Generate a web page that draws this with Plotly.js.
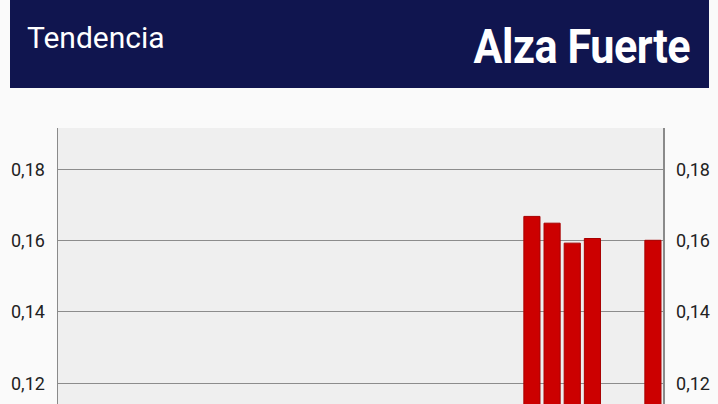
<!DOCTYPE html>
<html>
<head>
<meta charset="utf-8">
<script src="https://cdn.plot.ly/plotly-3.0.1.min.js"></script>
<style>
  html, body { margin: 0; padding: 0; background: #fafafa; overflow: hidden; width: 718px; height: 404px; }
  #wrap { position: relative; width: 718px; height: 404px; overflow: hidden; }
  #chart { position: absolute; left: 0; top: 0; width: 718px; height: 851px; }
  #head { position: absolute; left: 10px; top: 0; width: 699px; height: 88px; background: #10154f; z-index: 2; }
  #head .lbl { position: absolute; left: 17px; top: 23px; font: 30px/1 Roboto, sans-serif; color: #fff; white-space: nowrap; }
  #head .val { position: absolute; right: 19px; top: 22px; font: bold 49px/1 Roboto, sans-serif; color: #fff;
               white-space: nowrap; transform: scaleX(0.88); transform-origin: right center; letter-spacing: -0.5px; }
</style>
</head>
<body>
<div id="wrap">
  <div id="chart"></div>
  <div id="head"><span class="lbl">Tendencia</span><span class="val">Alza Fuerte</span></div>
</div>
<script>
// 30 daily slots, only the last few have a visible bar
var days = [];
for (var i = 1; i <= 30; i++) days.push(i);

var values = [
  null, null, null, null, null, null, null, null, null, null,
  null, null, null, null, null, null, null, null, null, null,
  null, null, null, 0.1668, 0.1649, 0.1593, 0.1606, null, null, 0.1601
];

// only the ticks that fall inside the visible part of the chart
var yTicks = [0.12, 0.14, 0.16, 0.18];

var trace = {
  x: days,
  y: values,
  type: 'bar',
  marker: {
    color: '#cc0000',
    line: { color: '#a80000', width: 1 }
  },
  hoverinfo: 'none'
};

// same bars on the right axis, invisible, so that axis gets drawn
var traceRight = {
  x: days,
  y: values,
  type: 'bar',
  yaxis: 'y2',
  opacity: 0,
  marker: { color: '#cc0000' },
  hoverinfo: 'none'
};

var yRange = [0, 0.1916];

var axisCommon = {
  range: yRange,
  tickvals: yTicks,
  tickformat: '.2f',
  tickfont: { family: 'Roboto, sans-serif', size: 18, color: '#222' },
  showline: true,
  linecolor: '#8a8a8a',
  linewidth: 1.5,
  ticks: '',
  ticklabelstandoff: 8,
  zeroline: false,
  fixedrange: true
};

var layout = {
  width: 718,
  height: 851,
  margin: { l: 58, r: 55, t: 128, b: 40 },
  paper_bgcolor: '#fafafa',
  plot_bgcolor: '#efefef',
  separators: ',.',
  showlegend: false,
  barmode: 'overlay',
  bargap: 0.2,
  xaxis: {
    range: [0.5, 30.5],
    showticklabels: false,
    showgrid: false,
    zeroline: false,
    ticks: '',
    fixedrange: true
  },
  yaxis: Object.assign({}, axisCommon, {
    side: 'left',
    showgrid: true,
    gridcolor: '#8c8c8c',
    gridwidth: 1
  }),
  yaxis2: Object.assign({}, axisCommon, {
    side: 'right',
    overlaying: 'y',
    showgrid: false
  })
};

Plotly.newPlot('chart', [trace, traceRight], layout, { displayModeBar: false, staticPlot: true });
</script>
</body>
</html>
